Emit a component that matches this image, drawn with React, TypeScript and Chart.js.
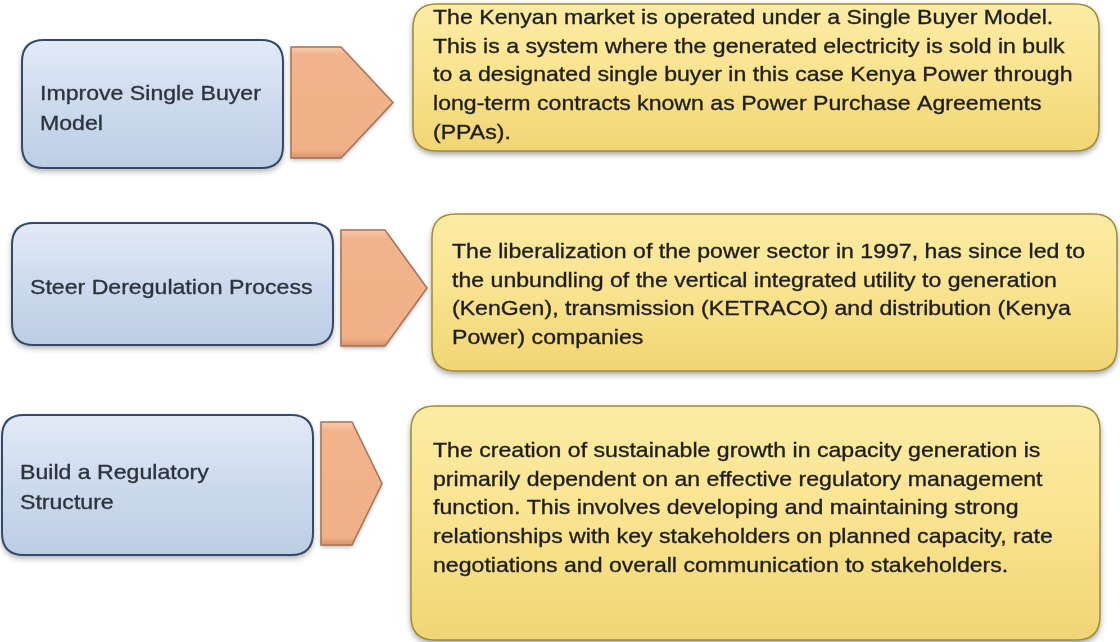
import React, { useEffect, useRef } from "react";
import { Chart, registerables } from "chart.js";

Chart.register(...registerables);

// Row titles (left blue boxes)
const titles: string[][] = [
  ["Improve Single Buyer", "Model"],
  ["Steer Deregulation Process"],
  ["Build a Regulatory", "Structure"],
];

// Descriptions (right yellow boxes)
const descriptions: string[][] = [
  [
    "The Kenyan market is operated under a Single Buyer Model.",
    "This is a system where the generated electricity is sold in bulk",
    "to a designated single buyer in this case Kenya Power through",
    "long-term contracts known as Power Purchase Agreements",
    "(PPAs).",
  ],
  [
    "The liberalization of the power sector in 1997, has since led to",
    "the unbundling of the vertical integrated utility to generation",
    "(KenGen), transmission (KETRACO) and distribution (Kenya",
    "Power) companies",
  ],
  [
    "The creation of sustainable growth in capacity generation is",
    "primarily dependent on an effective regulatory management",
    "function. This involves developing and maintaining strong",
    "relationships with key stakeholders on planned capacity, rate",
    "negotiations and overall communication to stakeholders.",
  ],
];

// Extents in chart units (x: 0..1120, y: 0..642 top-down)
const titleBoxStart = [22, 12, 2];
const titleBoxEnd = [283, 333, 313];
const titleBoxTop = [40, 223, 415];
const titleBoxBottom = [168, 345, 555];

const arrowStart = [291, 341, 321];
const arrowShoulder = [341, 385, 352];
const arrowTip = [393, 427, 382];
const arrowTop = [47, 230, 422];
const arrowBottom = [158, 346, 545];

const descBoxStart = [413, 432, 411];
const descBoxEnd = [1099, 1117, 1100];
const descBoxTop = [4, 214, 406];
const descBoxBottom = [151, 371, 640];

const titleTextX = [40, 30, 20];
const titleTextY = [94, 288, 473];
const descTextX = [433, 452, 433];
const descTextY = [18, 252, 451];
const TITLE_STEP = 30;
const DESC_STEP = 28.8;
const STRETCH = 1.1;

function roundRect(ctx: CanvasRenderingContext2D, x: number, y: number, w: number, h: number, r: number) {
  ctx.beginPath();
  ctx.moveTo(x + r, y);
  ctx.lineTo(x + w - r, y);
  ctx.quadraticCurveTo(x + w, y, x + w, y + r);
  ctx.lineTo(x + w, y + h - r);
  ctx.quadraticCurveTo(x + w, y + h, x + w - r, y + h);
  ctx.lineTo(x + r, y + h);
  ctx.quadraticCurveTo(x, y + h, x, y + h - r);
  ctx.lineTo(x, y + r);
  ctx.quadraticCurveTo(x, y, x + r, y);
  ctx.closePath();
}

function drawLine(ctx: CanvasRenderingContext2D, text: string, x: number, y: number, color: string) {
  ctx.save();
  ctx.translate(x, y);
  ctx.scale(STRETCH, 1);
  ctx.fillStyle = color;
  ctx.strokeStyle = color;
  ctx.lineWidth = 0.35;
  ctx.fillText(text, 0, 0);
  ctx.strokeText(text, 0, 0);
  ctx.restore();
}

const diagramPlugin = {
  id: "diagram",
  afterDatasetsDraw(chart: any) {
    const ctx: CanvasRenderingContext2D = chart.ctx;
    const xs = chart.scales.x;
    const ys = chart.scales.y;
    const X = (v: number) => xs.getPixelForValue(v);
    const Y = (v: number) => ys.getPixelForValue(v);

    for (let i = 0; i < titles.length; i++) {
      // ---- left blue box ----
      {
        const x0 = X(titleBoxStart[i]);
        const x1 = X(titleBoxEnd[i]);
        const y0 = Y(titleBoxTop[i]);
        const y1 = Y(titleBoxBottom[i]);
        ctx.save();
        ctx.shadowColor = "rgba(0,0,0,0.35)";
        ctx.shadowBlur = 6;
        ctx.shadowOffsetY = 3;
        roundRect(ctx, x0, y0, x1 - x0, y1 - y0, 22);
        const g = ctx.createLinearGradient(0, y0, 0, y1);
        g.addColorStop(0, "#e2eaf6");
        g.addColorStop(0.5, "#cddaed");
        g.addColorStop(1, "#bccde4");
        ctx.fillStyle = g;
        ctx.fill();
        ctx.restore();
        ctx.save();
        roundRect(ctx, x0, y0, x1 - x0, y1 - y0, 22);
        ctx.lineWidth = 2;
        ctx.strokeStyle = "#34496a";
        ctx.stroke();
        ctx.restore();

        ctx.save();
        ctx.font = '21px "Liberation Sans", Arial, sans-serif';
        ctx.textBaseline = "middle";
        titles[i].forEach((line, k) => {
          drawLine(ctx, line, X(titleTextX[i]), Y(titleTextY[i] + k * TITLE_STEP), "#2d333c");
        });
        ctx.restore();
      }

      // ---- arrow ----
      {
        const a0 = X(arrowStart[i]);
        const a1 = X(arrowShoulder[i]);
        const a2 = X(arrowTip[i]);
        const t = Y(arrowTop[i]);
        const b = Y(arrowBottom[i]);
        const m = (t + b) / 2;
        const path = () => {
          ctx.beginPath();
          ctx.moveTo(a0, t);
          ctx.lineTo(a1, t);
          ctx.lineTo(a2, m);
          ctx.lineTo(a1, b);
          ctx.lineTo(a0, b);
          ctx.closePath();
        };
        ctx.save();
        ctx.shadowColor = "rgba(0,0,0,0.3)";
        ctx.shadowBlur = 4;
        ctx.shadowOffsetY = 2;
        path();
        const g = ctx.createLinearGradient(0, t, 0, b);
        g.addColorStop(0, "#f8cdb0");
        g.addColorStop(0.07, "#f2b48c");
        g.addColorStop(0.93, "#f0b088");
        g.addColorStop(1, "#d6946d");
        ctx.fillStyle = g;
        ctx.fill();
        ctx.restore();
        ctx.save();
        path();
        ctx.lineWidth = 1.5;
        ctx.strokeStyle = "#a2705340";
        ctx.strokeStyle = "#a57256";
        ctx.stroke();
        ctx.restore();
      }

      // ---- right yellow box ----
      {
        const x0 = X(descBoxStart[i]);
        const x1 = X(descBoxEnd[i]);
        const y0 = Y(descBoxTop[i]);
        const y1 = Y(descBoxBottom[i]);
        ctx.save();
        ctx.shadowColor = "rgba(0,0,0,0.4)";
        ctx.shadowBlur = 6;
        ctx.shadowOffsetY = 3;
        roundRect(ctx, x0, y0, x1 - x0, y1 - y0, 24);
        const g = ctx.createLinearGradient(0, y0, 0, y1);
        g.addColorStop(0, "#fbeca4");
        g.addColorStop(0.5, "#f9e38e");
        g.addColorStop(1, "#f1d574");
        ctx.fillStyle = g;
        ctx.fill();
        ctx.restore();
        ctx.save();
        roundRect(ctx, x0, y0, x1 - x0, y1 - y0, 24);
        ctx.lineWidth = 1.5;
        ctx.strokeStyle = "#a08d33";
        ctx.stroke();
        ctx.restore();

        ctx.save();
        ctx.font = '21px "Liberation Sans", Arial, sans-serif';
        ctx.textBaseline = "middle";
        descriptions[i].forEach((line, k) => {
          drawLine(ctx, line, X(descTextX[i]), Y(descTextY[i] + k * DESC_STEP), "#1e1e1e");
        });
        ctx.restore();
      }
    }
  },
};

export default function App() {
  const ref = useRef<HTMLCanvasElement | null>(null);
  useEffect(() => {
    document.body.style.margin = "0";
    document.body.style.background = "#ffffff";
    if (!ref.current) return;
    const centers = titles.map((_, i) => ({
      x: (titleBoxStart[i] + descBoxEnd[i]) / 2,
      y: (titleBoxTop[i] + titleBoxBottom[i]) / 2,
    }));
    const chart = new Chart(ref.current, {
      type: "scatter",
      data: {
        datasets: [
          {
            label: "rows",
            data: centers,
            pointRadius: 0,
            pointHoverRadius: 0,
            showLine: false,
          },
        ],
      },
      options: {
        animation: false,
        responsive: false,
        devicePixelRatio: 1,
        layout: { padding: 0 },
        plugins: { legend: { display: false }, tooltip: { enabled: false } },
        events: [],
        scales: {
          x: { type: "linear", min: 0, max: 1120, display: false },
          y: { type: "linear", min: 0, max: 642, reverse: true, display: false },
        },
      },
      plugins: [diagramPlugin],
    });
    return () => chart.destroy();
  }, []);
  return (
    <div style={{ width: 1120, height: 642, background: "#fff" }}>
      <canvas ref={ref} width={1120} height={642} style={{ display: "block" }} />
    </div>
  );
}
